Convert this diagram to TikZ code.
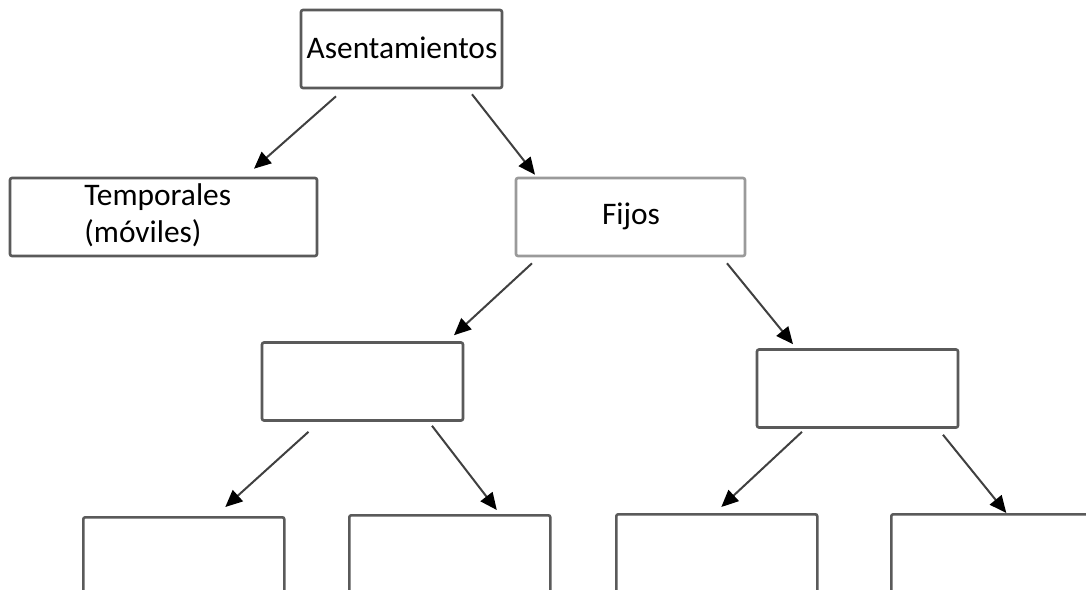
\documentclass[tikz,border=0pt]{standalone}
\usepackage{fontspec}
\setmainfont{Carlito}
\usetikzlibrary{arrows.meta}
\definecolor{boxgray}{HTML}{5A5A5A}
\definecolor{lightgray}{HTML}{9A9A9A}
\definecolor{linegray}{HTML}{404040}
\begin{document}
\begin{tikzpicture}[x=0.5pt,y=-0.5pt,
  box/.style={draw=boxgray,line width=1.3pt,rounded corners=1pt,fill=white,
    minimum width=100.5pt,minimum height=39pt,inner sep=0pt},
  lbl/.style={font=\fontsize{15.7}{18.6}\selectfont,inner sep=0pt},
  arr/.style={draw=linegray,line width=1pt,
    -{Triangle[length=8.5pt,width=7.5pt,color=black]}}]
\useasboundingbox (0,0) rectangle (1086,589);
\clip (0,0) rectangle (1086,589);
\fill[white] (0,0) rectangle (1086,589);
% boxes
\node[box] (A) at (401.5,49) {};
\node[lbl] (At) at (402,48) {Asentamientos};
\node[box,minimum width=153.5pt] (T) at (163.5,217) {};
\node[lbl,align=left,anchor=west] (Tt) at (84,215) {Temporales\\(móviles)};
\node[box,draw=lightgray,minimum width=114.5pt] (F) at (630.5,217) {};
\node[lbl] (Ft) at (631,216) {Fijos};
\node[box] (M1) at (362.5,381.5) {};
\node[box] (M2) at (857.5,388.5) {};
\node[box,anchor=north west] (B1) at (82,516) {};
\node[box,anchor=north west] (B2) at (348,514) {};
\node[box,anchor=north west] (B3) at (615,513) {};
\node[box,anchor=north west] (B4) at (890,513) {};
% arrows
\draw[arr] ([xshift=-32.75pt,yshift=-3.5pt]A.south) -- ([xshift=45.25pt,yshift=4pt]T.north);
\draw[arr] ([xshift=35.25pt,yshift=-2.5pt]A.south) -- ([xshift=-47.75pt,yshift=1pt]F.north);
\draw[arr] ([xshift=-49.25pt,yshift=-3pt]F.south) -- ([xshift=45.75pt,yshift=3pt]M1.north);
\draw[arr] ([xshift=48.25pt,yshift=-3pt]F.south) -- ([xshift=-32.25pt,yshift=2pt]M2.north);
\draw[arr] ([xshift=-27pt,yshift=-5pt]M1.south) -- ([xshift=20.75pt,yshift=4.5pt]B1.north);
\draw[arr] ([xshift=34.75pt,yshift=-2pt]M1.south) -- ([xshift=23.5pt,yshift=2pt]B2.north);
\draw[arr] ([xshift=-27.75pt,yshift=-1.5pt]M2.south) -- ([xshift=2.25pt,yshift=3pt]B3.north);
\draw[arr] ([xshift=42.75pt,yshift=-3pt]M2.south) -- ([xshift=7.25pt,yshift=0pt]B4.north);
\end{tikzpicture}
\end{document}
